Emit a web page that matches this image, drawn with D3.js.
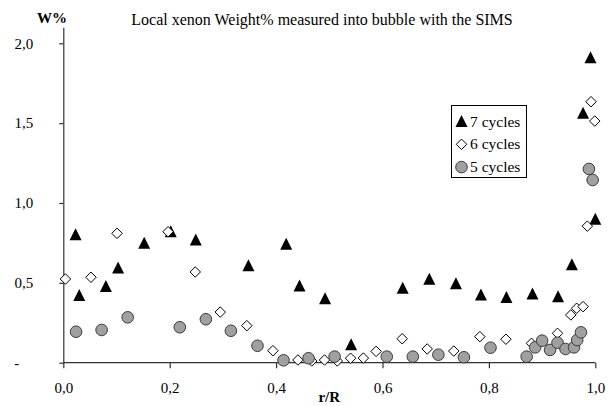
<!DOCTYPE html>
<html lang="en">
<head>
    <meta charset="UTF-8">
    <title>Local xenon Weight%</title>
    <script src="https://cdn.jsdelivr.net/npm/d3@7/dist/d3.min.js"></script>
    <style>
        body { margin: 0; background: #fff; }
        svg text { font-family: "Liberation Serif", "DejaVu Serif", "Times New Roman", serif !important; fill: #000; }
        .axis line, .axis path { stroke: #333; stroke-width: 1.2px; }
    </style>
</head>
<body>

<div id="svgcanvas"></div>

<script>

    /* global d3 */

    // r/R, W%
    var cycles7X = [0.023, 0.030, 0.080, 0.103, 0.152, 0.202, 0.249, 0.348, 0.419, 0.444, 0.492, 0.541,
        0.638, 0.688, 0.738, 0.785, 0.833, 0.882, 0.930, 0.956, 0.977, 0.991, 1.000];
    var cycles7Y = [0.80, 0.42, 0.476, 0.593, 0.748, 0.82, 0.768, 0.607, 0.741, 0.48, 0.40, 0.111,
        0.466, 0.522, 0.493, 0.424, 0.407, 0.43, 0.413, 0.612, 1.562, 1.908, 0.898];

    var cycles6X = [0.004, 0.052, 0.101, 0.197, 0.248, 0.295, 0.345, 0.394, 0.441, 0.467, 0.491, 0.515,
        0.540, 0.564, 0.588, 0.637, 0.684, 0.734, 0.783, 0.832, 0.880, 0.929, 0.954, 0.965, 0.977,
        0.985, 0.992, 0.999];
    var cycles6Y = [0.524, 0.535, 0.81, 0.82, 0.568, 0.317, 0.232, 0.075, 0.017, 0.011, 0.017, 0.011,
        0.028, 0.029, 0.071, 0.150, 0.086, 0.073, 0.163, 0.147, 0.121, 0.184, 0.299, 0.341, 0.351,
        0.855, 1.634, 1.513];

    var cycles5X = [0.024, 0.072, 0.121, 0.219, 0.268, 0.315, 0.365, 0.414, 0.461, 0.510, 0.608, 0.657,
        0.705, 0.753, 0.803, 0.871, 0.887, 0.900, 0.915, 0.929, 0.944, 0.960, 0.966, 0.973, 0.988, 0.995];
    var cycles5Y = [0.194, 0.205, 0.284, 0.222, 0.272, 0.200, 0.106, 0.015, 0.028, 0.038, 0.038, 0.038,
        0.050, 0.034, 0.094, 0.038, 0.096, 0.138, 0.080, 0.125, 0.086, 0.096, 0.142, 0.190, 1.213, 1.144];

    var xTicks = [0, 0.2, 0.4, 0.6, 0.8, 1.0];
    var yTicks = [0, 0.5, 1.0, 1.5, 2.0];
    var legendLabels = ["7 cycles", "6 cycles", "5 cycles"];

    var width = 614;
    var height = 406;
    var serif = "'Liberation Serif', 'DejaVu Serif', serif";

    var svg = d3.select("#svgcanvas").append("svg")
        .attr("width", width)
        .attr("height", height);

    var x = d3.scaleLinear().domain([0, 1]).range([63.3, 595.3]);
    var y = d3.scaleLinear().domain([0, 2.1]).range([362.7, 27.3]);

    function comma(d) {
        return d3.format(".1f")(d).replace(".", ",");
    }

    // y axis (Excel shows zero as "-")
    var yAxis = svg.append("g")
        .attr("class", "axis")
        .attr("transform", "translate(" + x(0) + ",0)")
        .call(d3.axisLeft(y).tickValues(yTicks).tickSize(4).tickSizeOuter(0).tickPadding(26)
            .tickFormat(function (d) { return d === 0 ? "-" : comma(d); }));
    yAxis.attr("font-family", null);
    yAxis.selectAll("text")
        .style("font-family", serif)
        .style("font-size", "15px");
    yAxis.selectAll(".tick")
        .filter(function (d) { return d === 0; })
        .select("text")
        .attr("x", -44);

    // x axis
    var xAxis = svg.append("g")
        .attr("class", "axis")
        .attr("transform", "translate(0," + y(0) + ")")
        .call(d3.axisBottom(x).tickValues(xTicks).tickSize(5.6).tickSizeOuter(0).tickPadding(14).tickFormat(comma));
    xAxis.attr("font-family", null);
    xAxis.selectAll("text")
        .style("font-family", serif)
        .style("font-size", "15px");
    xAxis.selectAll(".domain").remove();
    xAxis.append("line")
        .attr("x1", x(0)).attr("x2", x(1))
        .attr("y1", 0).attr("y2", 0);

    // titles
    svg.append("text")
        .attr("x", 322)
        .attr("y", 25)
        .attr("text-anchor", "middle")
        .style("font-family", serif)
        .style("font-size", "16px")
        .text("Local xenon Weight% measured into bubble with the SIMS");

    svg.append("text")
        .attr("x", 52)
        .attr("y", 23)
        .attr("text-anchor", "middle")
        .style("font-family", serif)
        .style("font-size", "15px")
        .style("font-weight", "bold")
        .text("W%");

    svg.append("text")
        .attr("x", (x(0) + x(1)) / 2)
        .attr("y", 402)
        .attr("text-anchor", "middle")
        .style("font-family", serif)
        .style("font-size", "15px")
        .style("font-weight", "bold")
        .text("r/R");

    // markers
    function triangle(s) {
        return "M0," + (-s * 0.55) + "L" + (s / 2) + "," + (s * 0.45) + "L" + (-s / 2) + "," + (s * 0.45) + "Z";
    }
    function diamond(s) {
        return "M0," + (-s / 2) + "L" + (s / 2) + ",0L0," + (s / 2) + "L" + (-s / 2) + ",0Z";
    }

    var series = [
        {xs: cycles7X, ys: cycles7Y, kind: "tri"},
        {xs: cycles6X, ys: cycles6Y, kind: "dia"},
        {xs: cycles5X, ys: cycles5Y, kind: "circ"}
    ];

    function drawMarker(g, kind) {
        if (kind === "tri") {
            g.append("path").attr("d", triangle(12)).attr("fill", "#000");
        } else if (kind === "dia") {
            g.append("path").attr("d", diamond(10.5)).attr("fill", "#fff")
                .attr("stroke", "#000").attr("stroke-width", 1);
        } else {
            g.append("circle").attr("r", 5.8).attr("fill", "#a0a0a0")
                .attr("stroke", "#3a3a3a").attr("stroke-width", 1);
        }
    }

    series.forEach(function (s) {
        var pts = s.xs.map(function (v, i) { return [v, s.ys[i]]; });
        svg.append("g")
            .selectAll("g")
            .data(pts)
            .enter().append("g")
            .attr("transform", function (d) { return "translate(" + x(d[0]) + "," + y(d[1]) + ")"; })
            .each(function () { drawMarker(d3.select(this), s.kind); });
    });

    // legend
    var legend = svg.append("g");
    legend.append("rect")
        .attr("x", 451.5).attr("y", 105.5)
        .attr("width", 75).attr("height", 72)
        .attr("fill", "#fff")
        .attr("stroke", "#000")
        .attr("stroke-width", 1);

    legendLabels.forEach(function (label, i) {
        var cy = 121.5 + i * 22.8;
        var g = legend.append("g").attr("transform", "translate(461.5," + cy + ")");
        drawMarker(g, series[i].kind);
        legend.append("text")
            .attr("x", 470)
            .attr("y", cy + 5)
            .style("font-family", serif)
            .style("font-size", "15.5px")
            .text(label);
    });

</script>
</body>
</html>
